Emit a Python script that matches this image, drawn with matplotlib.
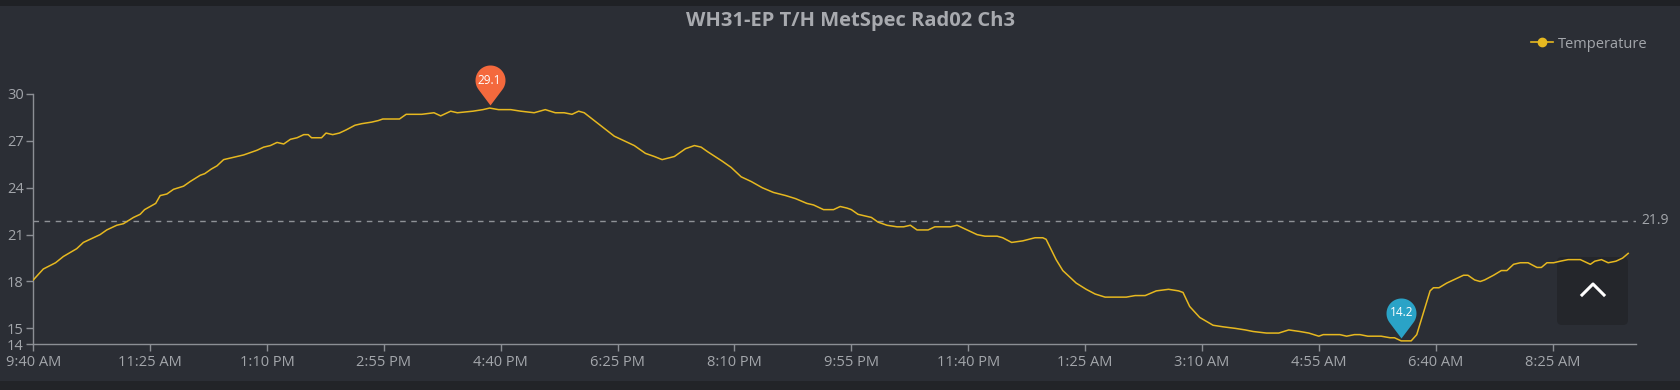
import numpy as np
import pandas as pd
import matplotlib
matplotlib.use("Agg")
import matplotlib.pyplot as plt
import matplotlib.dates as mdates
from matplotlib.path import Path
from matplotlib.patches import Rectangle, FancyBboxPatch
from matplotlib.lines import Line2D
from matplotlib.ticker import FuncFormatter

plt.rcParams['font.family'] = ['Open Sans', 'DejaVu Sans']

# readings, minutes after 9:40 AM
minutes = [0, 9, 20, 27, 39, 45, 51, 60, 66, 75, 81, 90, 96, 100, 105, 110, 114, 120, 126, 135,
           141, 150, 154, 160, 165, 171, 177, 189, 201, 207, 213, 219, 225, 231, 237, 243, 247, 250,
           259, 263, 269, 275, 281, 289, 295, 304, 310, 314, 329, 335, 343, 349,
           360, 366, 375, 381, 395, 404, 410, 418, 429, 438, 450, 460, 469, 477, 484, 490, 495, 504,
           513, 522, 531, 540, 550, 558, 565, 576, 586, 594, 600, 606, 619, 627, 636, 645, 655, 665,
           676, 685, 695, 701,
           710, 719, 725, 731, 735, 741, 747, 753, 759, 767, 776, 782, 788, 794, 804, 810, 824, 830,
           839, 848, 855, 860, 866, 871, 879, 889, 900, 907, 910, 919, 925, 937, 946, 954, 963, 982,
           990, 999, 1009, 1020, 1029, 1033, 1039, 1048,
           1060, 1069, 1080, 1089, 1096, 1108, 1119, 1128, 1138, 1146, 1155, 1159, 1174, 1180, 1187,
           1192, 1199, 1205, 1211, 1219, 1223, 1229, 1238, 1243, 1249, 1255, 1258, 1263, 1270, 1279,
           1285, 1289, 1295, 1300, 1304, 1312, 1319, 1324, 1330, 1336, 1343, 1351, 1355, 1360, 1366,
           1372, 1379, 1384, 1390, 1396, 1399, 1403, 1409, 1415, 1422, 1428, 1433]
temperature = [18.1, 18.8, 19.2, 19.6, 20.1, 20.5, 20.7, 21.0, 21.3, 21.6, 21.7, 22.1, 22.3, 22.6, 22.8,
               23.0, 23.5, 23.6, 23.9, 24.1, 24.4, 24.8, 24.9, 25.2, 25.4, 25.8, 25.9, 26.1, 26.4, 26.6,
               26.7, 26.9, 26.8, 27.1, 27.2, 27.4, 27.4, 27.2, 27.2, 27.5, 27.4, 27.5, 27.7, 28.0, 28.1,
               28.2, 28.3, 28.4, 28.4, 28.7, 28.7, 28.7,
               28.8, 28.6, 28.9, 28.8, 28.9, 29.0, 29.1, 29.0, 29.0, 28.9, 28.8, 29.0, 28.8, 28.8, 28.7,
               28.9, 28.8, 28.3, 27.8, 27.3, 27.0, 26.7, 26.2, 26.0, 25.8, 26.0, 26.5, 26.7, 26.6, 26.3,
               25.7, 25.3, 24.7, 24.4, 24.0, 23.7, 23.5, 23.3, 23.0, 22.9,
               22.6, 22.6, 22.8, 22.7, 22.6, 22.3, 22.2, 22.1, 21.8, 21.6, 21.5, 21.5, 21.6, 21.3, 21.3,
               21.5, 21.5, 21.6, 21.3, 21.0, 20.9, 20.9, 20.9, 20.8, 20.5, 20.6, 20.8, 20.8, 20.7, 19.4,
               18.7, 17.9, 17.5, 17.2, 17.0, 17.0, 17.1, 17.1, 17.4, 17.5, 17.4, 17.3, 16.4, 15.7,
               15.2, 15.1, 15.0, 14.9, 14.8, 14.7, 14.7, 14.9, 14.8, 14.7, 14.5, 14.6, 14.6, 14.5, 14.6,
               14.6, 14.5, 14.5, 14.5, 14.4, 14.4, 14.2, 14.2, 14.6, 16.0, 17.4, 17.6, 17.6, 17.9, 18.2,
               18.4, 18.4, 18.1, 18.0, 18.1, 18.4, 18.7, 18.7, 19.1, 19.2, 19.2, 18.9, 18.9, 19.2, 19.2,
               19.3, 19.4, 19.4, 19.4, 19.2, 19.1, 19.3, 19.4, 19.2, 19.3, 19.5, 19.8]
mean_temp = 21.9
y_ticks = [14, 15, 18, 21, 24, 27, 30]

start = pd.Timestamp("2024-06-15 09:40")
times = start + pd.to_timedelta(minutes, unit="min")
temps = np.array(temperature)

BG = '#2b2e35'
AXIS = '#8c8f95'
TEXT = '#a3a6ab'
LINE = '#e6b820'
W, H = 1681, 390

fig = plt.figure(figsize=(W / 100, H / 100), dpi=100, facecolor=BG)
fig.add_artist(Rectangle((0, 1 - 5.5 / H), 1, 5.5 / H, transform=fig.transFigure,
                         fc='#1f2125', ec='none'))
fig.add_artist(Rectangle((0, 0), 1, 9 / H, transform=fig.transFigure, fc='#222428', ec='none'))

ax = fig.add_axes([33.3 / W, 46 / H, 1602.7 / W, 250 / H])
ax.set_facecolor(BG)
ax.plot(times, temps, color=LINE, lw=1.1, zorder=3)

ax.set_xlim(start, start + pd.Timedelta(minutes=1440))
ax.set_ylim(14, 30)
ax.set_yticks(y_ticks)
ax.set_xticks([start + pd.Timedelta(minutes=105 * k) for k in range(14)])


def fmt_time(x, pos):
    return mdates.num2date(x).strftime('%I:%M %p').lstrip('0')


ax.xaxis.set_major_formatter(FuncFormatter(fmt_time))
for s in ['top', 'right']:
    ax.spines[s].set_visible(False)
for s in ['left', 'bottom']:
    ax.spines[s].set_color(AXIS)
    ax.spines[s].set_linewidth(1)
ax.tick_params(axis='both', colors=AXIS, labelcolor=TEXT, length=5, width=1, labelsize=10.5)
ax.tick_params(axis='x', pad=3)
ax.tick_params(axis='y', pad=2)

# average line
ax.axhline(mean_temp, color='#8f9297', lw=1, ls=(0, (4, 4)), zorder=2)
ax.annotate(f'{mean_temp:.1f}', xy=(1, mean_temp), xycoords=('axes fraction', 'data'),
            xytext=(4, 0), textcoords='offset points', ha='left', va='center',
            color=TEXT, fontsize=10, annotation_clip=False)

# pin markers for max / min
r, gap, tip = 15.0, 25.0, 3.0
a = np.arccos(r / gap)
ang = np.linspace(-np.pi / 2 + a, 3 * np.pi / 2 - a, 40)
verts = [(0, tip)] + [(r * np.cos(t), tip + gap + r * np.sin(t)) for t in ang] + [(0, tip)]
pin = Path(verts, [Path.MOVETO] + [Path.LINETO] * (len(verts) - 1))
ms = 2 * (tip + gap + r) * 0.72

i_max = int(np.argmax(temps))
i_min = int(np.argmin(temps))
for i, col in [(i_max, '#f4693d'), (i_min, '#2aa3c7')]:
    ax.plot([times[i]], [temps[i]], marker=pin, ms=ms, color=col, mec='none', zorder=6,
            clip_on=False)
    ax.annotate(f'{temps[i]:.1f}', xy=(times[i], temps[i]), xytext=(0, (tip + gap) * 0.72),
                textcoords='offset points', ha='center', va='center', color='white',
                fontsize=8.5, zorder=7, annotation_clip=False)

# scroll-to-top button
ax.add_patch(FancyBboxPatch((15.57, (H - 325) / 100), 0.71, 0.68,
                            boxstyle='round,pad=0,rounding_size=0.05',
                            transform=fig.dpi_scale_trans, fc='#24262b', ec='none', zorder=1))
ax.add_line(Line2D([15.82, 15.93, 16.04], [(H - 295) / 100, (H - 284) / 100, (H - 295) / 100],
                   transform=fig.dpi_scale_trans, color='white', lw=2.2, zorder=5))

fig.text(850 / W, 1 - 21 / H, 'WH31-EP T/H MetSpec Rad02 Ch3', ha='center', va='center',
         fontsize=14.5, fontweight='bold', color='#a8aaaf')

handle = Line2D([], [], color=LINE, marker='o', ms=6, lw=1.2)
fig.legend([handle], ['Temperature'], loc='center right', bbox_to_anchor=(1648 / W, 1 - 44 / H),
           frameon=False, fontsize=10.5, labelcolor=TEXT, handlelength=1.5, handletextpad=0.4,
           borderpad=0, borderaxespad=0)

fig.savefig('out.png', dpi=100, facecolor=BG)
